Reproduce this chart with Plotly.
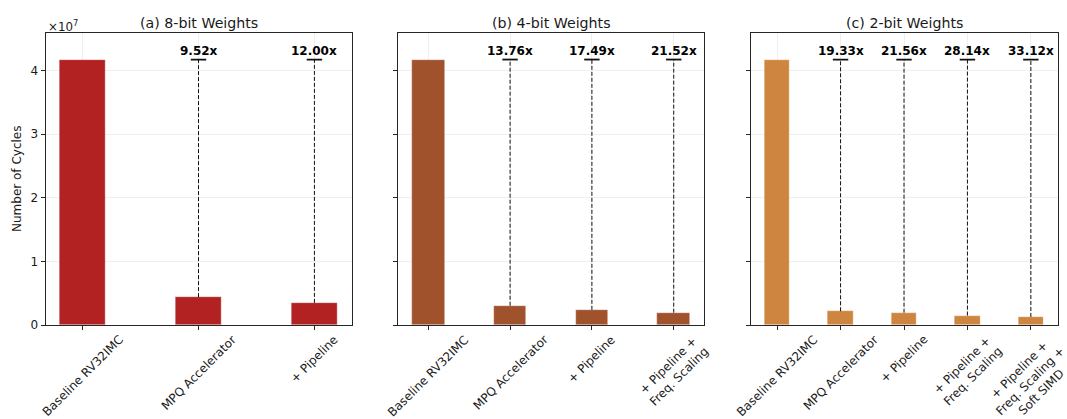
import plotly.graph_objects as go

# Cycle counts for the MPQ design stages, per weight precision
baseline_cycles = 41.73e6

labels_8bit = ["Baseline RV32IMC", "MPQ Accelerator", "+ Pipeline"]
speedups_8bit = [9.52, 12.00]

labels_4bit = ["Baseline RV32IMC", "MPQ Accelerator", "+ Pipeline",
               "+ Pipeline +<br>Freq. Scaling"]
speedups_4bit = [13.76, 17.49, 21.52]

labels_2bit = ["Baseline RV32IMC", "MPQ Accelerator", "+ Pipeline",
               "+ Pipeline +<br>Freq. Scaling",
               "+ Pipeline +<br>Freq. Scaling +<br>Soft SIMD"]
speedups_2bit = [19.33, 21.56, 28.14, 33.12]

titles = ["(a) 8-bit Weights", "(b) 4-bit Weights", "(c) 2-bit Weights"]
colors = ["#B22222", "#A0522D", "#CD853F"]

y_ticks = [0, 1e7, 2e7, 3e7, 4e7]
y_tick_text = ["0", "1", "2", "3", "4"]

W, H = 1067, 419
FONT = "DejaVu Sans"
TXT = "#1a1a1a"
SPINE = "#262626"
GRID = "#efefef"

panels = [
    (labels_8bit, speedups_8bit, (45.5, 351.5)),
    (labels_4bit, speedups_4bit, (398.0, 704.0)),
    (labels_2bit, speedups_2bit, (750.5, 1057.5)),
]

y_max = baseline_cycles * 1.1

fig = go.Figure()
annotations = []
layout_axes = {}

for k, (labels, speedups, (px0, px1)) in enumerate(panels):
    xa = "x" if k == 0 else f"x{k + 1}"
    ya = "y" if k == 0 else f"y{k + 1}"
    cycles = [baseline_cycles] + [baseline_cycles / s for s in speedups]

    fig.add_trace(go.Bar(
        x=labels, y=cycles, width=0.4, xaxis=xa, yaxis=ya,
        marker=dict(color=colors[k], line=dict(color="rgba(255,255,255,0.6)", width=0.6)),
        showlegend=False, hoverinfo="skip",
    ))

    # dashed connectors from each improved bar up to the baseline level
    for lab, c, s in zip(labels[1:], cycles[1:], speedups):
        fig.add_trace(go.Scatter(
            x=[lab, lab], y=[c, baseline_cycles], mode="lines",
            line=dict(color="#111", width=1, dash="4px,2px"),
            xaxis=xa, yaxis=ya, showlegend=False, hoverinfo="skip",
        ))
        fig.add_trace(go.Scatter(
            x=[lab], y=[baseline_cycles], mode="markers",
            marker=dict(symbol="line-ew", size=11, line=dict(color="#111", width=1.8)),
            xaxis=xa, yaxis=ya, showlegend=False, hoverinfo="skip",
        ))
        annotations.append(dict(
            x=lab, y=baseline_cycles, xref=xa, yref=ya, text=f"<b>{s:.2f}x</b>",
            showarrow=False, yanchor="bottom", xanchor="center", yshift=0,
            font=dict(family=FONT, size=12, color="#000"),
        ))

    # rotated category labels, centred under each tick
    for lab in labels:
        annotations.append(dict(
            x=lab, y=0, xref=xa, yref="paper", text=lab, textangle=-45,
            showarrow=False, xanchor="center", yanchor="top", yshift=-5,
            align="center", font=dict(family=FONT, size=12, color=TXT),
        ))

    annotations.append(dict(
        x=0.5, y=1, xref=f"{xa} domain", yref="paper", text=titles[k],
        showarrow=False, xanchor="center", yanchor="bottom", yshift=0,
        font=dict(family=FONT, size=14.2, color=TXT),
    ))

    n = len(labels)
    pad = 0.05 * (n - 1 + 0.4)
    layout_axes["xaxis" if k == 0 else f"xaxis{k + 1}"] = dict(
        domain=[px0 / W, px1 / W], type="category", categoryarray=labels,
        range=[-0.2 - pad, n - 1 + 0.2 + pad], anchor=ya,
        showline=True, mirror=True, linecolor=SPINE, linewidth=1,
        ticks="outside", ticklen=4, tickcolor=SPINE, tickwidth=1,
        showticklabels=False, showgrid=True, gridcolor=GRID, gridwidth=0.8,
        zeroline=False, fixedrange=True,
    )
    layout_axes["yaxis" if k == 0 else f"yaxis{k + 1}"] = dict(
        domain=[0, 1], range=[0, y_max], anchor=xa,
        tickvals=y_ticks, ticktext=y_tick_text, showticklabels=(k == 0),
        tickfont=dict(family=FONT, size=12, color=TXT),
        showline=True, mirror=True, linecolor=SPINE, linewidth=1,
        ticks="outside", ticklen=4, tickcolor=SPINE, tickwidth=1,
        showgrid=True, gridcolor=GRID, gridwidth=0.8, zeroline=False, fixedrange=True,
    )

# axis scale factor and shared y label
annotations.append(dict(
    x=45.5 / W, y=1, xref="paper", yref="paper", text="×10<sup>7</sup>",
    showarrow=False, xanchor="left", yanchor="bottom", yshift=-3,
    font=dict(family=FONT, size=11.8, color=TXT),
))
annotations.append(dict(
    x=17 / W, y=0.5, xref="paper", yref="paper", text="Number of Cycles",
    textangle=-90, showarrow=False, xanchor="center", yanchor="middle",
    font=dict(family=FONT, size=12, color=TXT),
))

fig.update_layout(
    width=W, height=H,
    margin=dict(l=0, r=0, t=33, b=94),
    paper_bgcolor="white", plot_bgcolor="white",
    annotations=annotations, bargap=0,
    font=dict(family=FONT, color=TXT),
    **layout_axes,
)

fig.write_html("out.html", config={"displayModeBar": False})
